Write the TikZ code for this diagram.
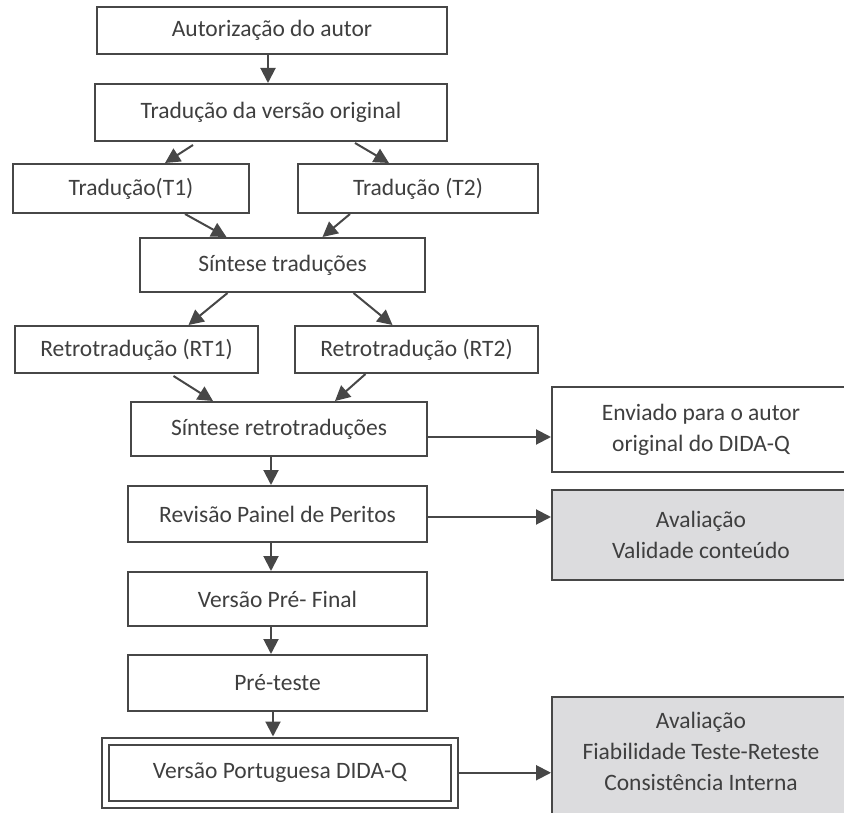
\documentclass[tikz,border=0pt]{standalone}
\usepackage{fontspec}
\setmainfont{Carlito}
\usepackage{tikz}
\usetikzlibrary{
arrows.meta
}
\definecolor{linegrey}{HTML}{474747}
\definecolor{textgrey}{HTML}{3F3F3F}
\definecolor{boxgrey}{HTML}{DCDCDE}

\begin{document}
\begin{tikzpicture}[x=1pt,y=-1pt,
    stage/.style={draw=linegrey,line width=2pt,fill=white,text=textgrey,
      font=\fontsize{23.5}{31}\selectfont,align=center,inner sep=0pt},
    note/.style={stage,fill=boxgrey},
    arr/.style={draw=linegrey,line width=2pt,-{Triangle[length=15pt,width=15pt]}}]
      \useasboundingbox (0,0) rectangle (844,813);
      \clip (0,0) rectangle (844,813);

      \node[stage,minimum width=350pt,minimum height=47pt] (aut) at (272,30.5) {Autorização do autor};
      \node[stage,minimum width=352pt,minimum height=57pt] (trad) at (271,112.5) {Tradução da versão original};
      \node[stage,minimum width=236pt,minimum height=49pt] (t1) at (131,188.5) {Tradução(T1)};
      \node[stage,minimum width=240pt,minimum height=49pt] (t2) at (418,188.5) {Tradução (T2)};
      \node[stage,minimum width=285pt,minimum height=54pt] (sint) at (282.5,265) {Síntese traduções};
      \node[stage,minimum width=243pt,minimum height=47pt] (rt1) at (136.5,349.5) {Retrotradução (RT1)};
      \node[stage,minimum width=243pt,minimum height=47pt] (rt2) at (416.5,349.5) {Retrotradução (RT2)};
      \node[stage,minimum width=296pt,minimum height=54pt] (sr) at (279,429) {Síntese retrotraduções};
      \node[stage,minimum width=299pt,minimum height=56pt] (rev) at (277.5,514) {Revisão Painel de Peritos};
      \node[stage,minimum width=299pt,minimum height=54pt] (vpf) at (277.5,599) {Versão Pré- Final};
      \node[stage,minimum width=299pt,minimum height=56pt] (pre) at (277.5,683) {Pré-teste};
      \node[stage,double=white,double distance=5pt,minimum width=349pt,minimum height=63.5pt] (vp) at (280,772.75) {Versão Portuguesa DIDA-Q};

      \node[stage,minimum width=298pt,minimum height=85pt] (env) at (701,429.5) {Enviado para o autor\\original do DIDA-Q};
      \node[note,minimum width=298pt,minimum height=90pt] (aval1) at (701,535) {Avaliação\\Validade conteúdo};
      \node[note,anchor=north,minimum width=298pt,inner ysep=14pt,text height=79pt,text depth=40pt] (aval2) at (701,696)
        {Avaliação\\Fiabilidade Teste-Reteste\\Consistência Interna};

      % tradução
      \path ([xshift=-4pt]aut.south) edge[arr] ([xshift=-3pt]trad.north);
      \path ([xshift=-78pt,yshift=-3pt]trad.south) edge[arr] ([xshift=34pt]t1.north);
      \path ([xshift=84pt,yshift=-1pt]trad.south) edge[arr] ([xshift=-29pt]t2.north);
      \path ([xshift=54pt]t1.south) edge[arr] ([xshift=-56pt]sint.north);
      \path ([xshift=-68pt]t2.south) edge[arr] ([xshift=40pt]sint.north);

      % retrotradução
      \path ([xshift=-55pt]sint.south) edge[arr] ([xshift=52pt]rt1.north);
      \path ([xshift=71pt]sint.south) edge[arr] ([xshift=-24pt]rt2.north);
      \path ([xshift=37pt,yshift=-2pt]rt1.south) edge[arr] ([xshift=-66pt]sr.north);
      \path ([xshift=-51pt]rt2.south) edge[arr] ([xshift=56pt]sr.north);

      \path ([xshift=-8pt]sr.south) edge[arr] ([xshift=-6.5pt]rev.north);
      \path ([xshift=-6.5pt]rev.south) edge[arr] ([xshift=-6.5pt]vpf.north);
      \path ([xshift=-6.5pt]vpf.south) edge[arr] ([xshift=-6.5pt]pre.north);
      \path ([xshift=-4.5pt]pre.south) edge[arr] ([xshift=-7pt,yshift=3.5pt]vp.north);

      % avaliação
      \path ([yshift=-8pt]sr.east) edge[arr] ([yshift=-7.5pt]env.west);
      \path ([yshift=-3pt]rev.east) edge[arr] ([yshift=18pt]aval1.west);
      \path ([xshift=3.5pt]vp.east) edge[arr] (vp.east -| aval2.west);
   \end{tikzpicture}
\end{document}
